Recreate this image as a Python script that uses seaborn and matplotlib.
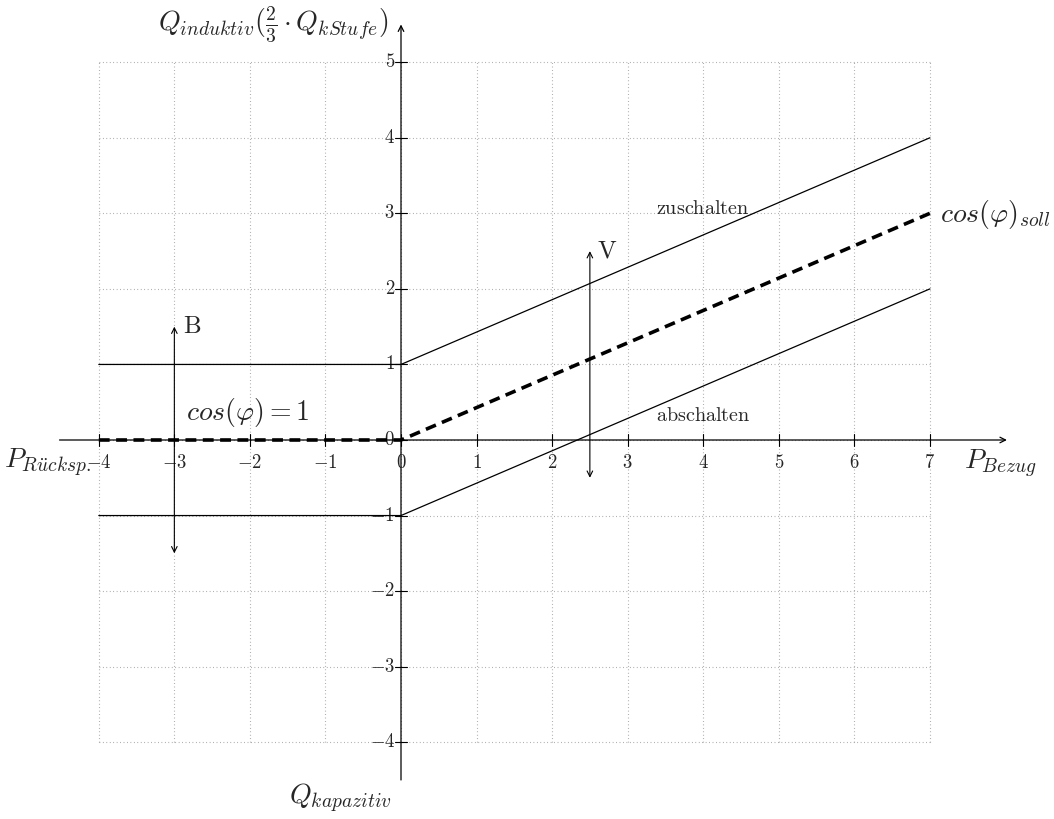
import matplotlib
matplotlib.use("Agg")
import matplotlib.pyplot as plt
import seaborn as sns
import numpy as np

# ---- data ----
P_points = [-4, 0, 0, 7]
Q_soll = [0, 0, 0, 3]
Q_zuschalten = [1, 1, 1, 4]
Q_abschalten = [-1, -1, -1, 2]
x_ticks = [-4, -3, -2, -1, 0, 1, 2, 3, 4, 5, 6, 7]
y_ticks = [-4, -3, -2, -1, 0, 1, 2, 3, 4, 5]
B_arrow = (-3, -1.5, 1.5)   # x, y_from, y_to
V_arrow = (2.5, -0.5, 2.5)

sns.set_style("white")
plt.rcParams["mathtext.fontset"] = "cm"
plt.rcParams["font.family"] = ["DejaVu Serif"]

W, H = 1054, 819
fig = plt.figure(figsize=(W / 100, H / 100), dpi=100)
ax = fig.add_axes([0, 0, 1, 1])
s = 75.55
x0p, y0p = 401, 440
ax.set_xlim(-x0p / s, (W - x0p) / s)
ax.set_ylim(-(H - y0p) / s, y0p / s)
ax.axis("off")

# grid
gcol = "#9a9a9a"
for xv in x_ticks:
    ax.plot([xv, xv], [y_ticks[0], y_ticks[-1]], color=gcol, lw=0.8,
            linestyle=(0, (0.7, 2.4)), zorder=0)
for yv in y_ticks:
    ax.plot([x_ticks[0], x_ticks[-1]], [yv, yv], color=gcol, lw=0.8,
            linestyle=(0, (0.7, 2.4)), zorder=0)

# tick labels (drawn below the lines)
tfs = 13.5
for xv in x_ticks:
    ax.text(xv, -0.30, rf"${xv}$", ha="center", va="center", fontsize=tfs, zorder=1)
for yv in y_ticks:
    ax.text(-0.08, yv, rf"${yv}$", ha="right", va="center", fontsize=tfs, zorder=1)

# axes
ax.annotate("", xy=(8.02, 0), xytext=(-4.52, 0),
            arrowprops=dict(arrowstyle="->", lw=0.9, color="black",
                            shrinkA=0, shrinkB=0), zorder=3)
ax.annotate("", xy=(0, 5.5), xytext=(0, -4.5),
            arrowprops=dict(arrowstyle="->", lw=0.9, color="black",
                            shrinkA=0, shrinkB=0), zorder=3)
tl = 0.085
for xv in x_ticks:
    ax.plot([xv, xv], [-tl, tl], color="black", lw=0.8, zorder=3)
for yv in y_ticks:
    ax.plot([-tl, tl], [yv, yv], color="black", lw=0.8, zorder=3)

# lines
sns.lineplot(x=P_points, y=Q_zuschalten, sort=False, estimator=None,
             color="black", lw=0.9, ax=ax, zorder=4)
sns.lineplot(x=P_points, y=Q_abschalten, sort=False, estimator=None,
             color="black", lw=0.9, ax=ax, zorder=4)
sns.lineplot(x=P_points, y=Q_soll, sort=False, estimator=None,
             color="black", lw=2.6, ax=ax, zorder=5,
             dashes=False, linestyle=(0, (3.0, 1.8)))

# double arrows
for (xa, ya, yb) in (B_arrow, V_arrow):
    ax.annotate("", xy=(xa, yb), xytext=(xa, ya),
                arrowprops=dict(arrowstyle="<->", lw=0.8, color="black",
                                shrinkA=0, shrinkB=0), zorder=4)

# labels
fs = 20
ax.text(-0.16, 5.5, r"$Q_{induktiv}(\frac{2}{3}\cdot Q_{kStufe})$",
        ha="right", va="center", fontsize=fs)
ax.text(-0.8, -4.75, r"$Q_{kapazitiv}$", ha="center", va="center", fontsize=fs)
ax.text(-5.25, -0.30, r"$P_{R\ddot{u}cksp.}$", ha="left", va="center", fontsize=fs)
ax.text(7.45, -0.32, r"$P_{Bezug}$", ha="left", va="center", fontsize=fs)
ax.text(7.14, 2.98, r"$cos(\varphi)_{soll}$", ha="left", va="center", fontsize=fs)
ax.text(-2.03, 0.36, r"$cos(\varphi) = 1$", ha="center", va="center", fontsize=fs)
ax.text(4.0, 3.07, r"$\mathrm{zuschalten}$", ha="center", va="center", fontsize=14.5)
ax.text(4.0, 0.33, r"$\mathrm{abschalten}$", ha="center", va="center", fontsize=14.5)
ax.text(-2.88, 1.5, r"$\mathrm{B}$", ha="left", va="center", fontsize=18)
ax.text(2.6, 2.5, r"$\mathrm{V}$", ha="left", va="center", fontsize=18)

fig.savefig("out.png", dpi=100, facecolor="white")
